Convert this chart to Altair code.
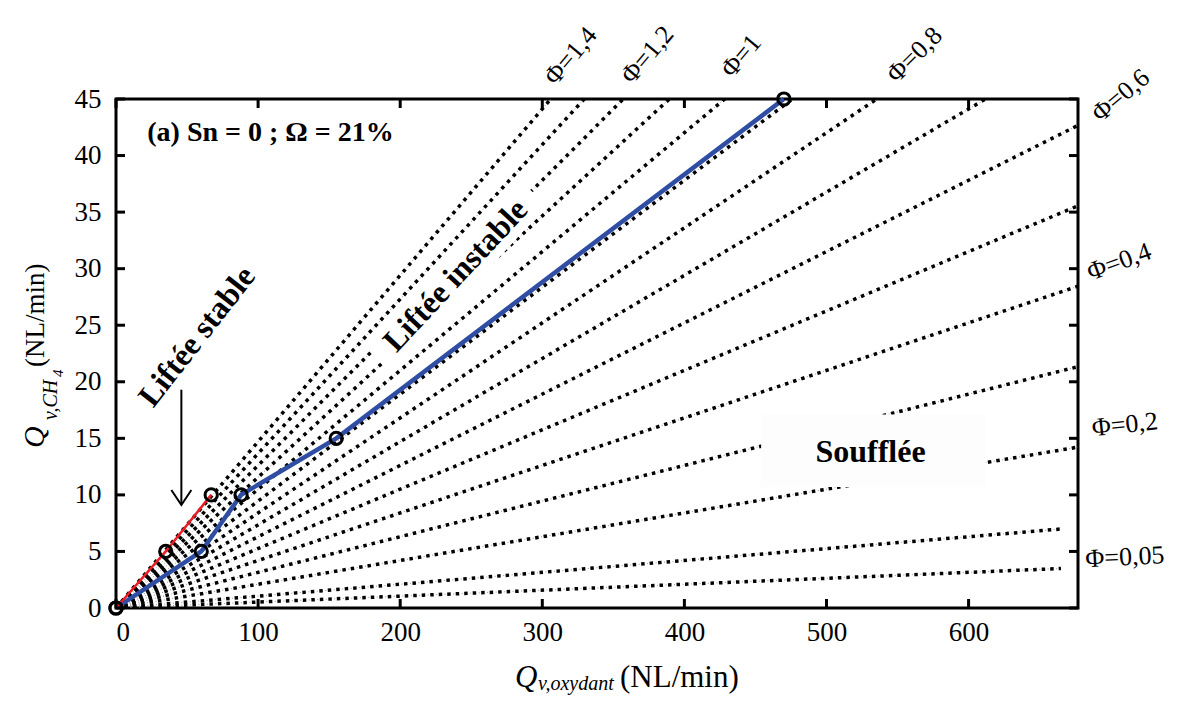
import altair as alt
import pandas as pd

# ---- data ----
phi_values = [0.05, 0.1, 0.2, 0.3, 0.4, 0.5, 0.6, 0.7, 0.8, 0.9, 1.0, 1.1, 1.2, 1.3, 1.4]
stoich_ratio = 9.52          # oxidant / CH4 at phi = 1 (air)
phi_line_xend = [665, 665, 677, 677, 677, 677, 677, 677, 677, 677, 677, 677, 677, 677, 677]

blue_x = [0, 60, 88, 155, 470]
blue_y = [0, 5, 10, 15, 45]
red_x = [0, 35, 67]
red_y = [0, 5, 10]

x_ticks = [0, 100, 200, 300, 400, 500, 600]
y_ticks = [0, 5, 10, 15, 20, 25, 30, 35, 40, 45]

phi_labels = ["Φ=1,4", "Φ=1,2", "Φ=1", "Φ=0,8", "Φ=0,6", "Φ=0,4", "Φ=0,2", "Φ=0,05"]
phi_label_x = [320, 374, 440, 562, 707, 706, 710, 710]
phi_label_y = [48.8, 48.9, 48.8, 48.9, 45.3, 30.6, 16.2, 4.5]
phi_label_angle = [310, 310, 310, 315, 320, 340, 354, 357]

# white text boxes behind labels (start / end of box centre line)
instable_box_x = [185, 293]
instable_box_y = [22.0, 36.8]
souffle_box_x = [454, 612]
souffle_box_y = [10.7, 17.1]

FONT = "Liberation Serif"
W, H = 962, 509
XMAX, YMAX = 677, 45

# ---- tables ----
rows = []
for p, xe in zip(phi_values, phi_line_xend):
    rows.append({"phi": p, "x": 0, "y": 0, "o": 0})
    rows.append({"phi": p, "x": xe, "y": p * xe / stoich_ratio, "o": 1})
phi_df = pd.DataFrame(rows)
blue_df = pd.DataFrame({"x": blue_x, "y": blue_y, "o": range(len(blue_x))})
red_df = pd.DataFrame({"x": red_x, "y": red_y, "o": range(len(red_x))})
lab_df = pd.DataFrame({"t": phi_labels, "x": phi_label_x, "y": phi_label_y, "a": phi_label_angle})

xs = alt.Scale(domain=[0, XMAX], nice=False, zero=True)
ys = alt.Scale(domain=[0, YMAX], nice=False, zero=True)


def X(field="x"):
    return alt.X(f"{field}:Q", scale=xs,
                 axis=alt.Axis(values=x_ticks, title=None, ticks=False, domain=False, grid=False,
                               labelFont=FONT, labelFontSize=27, labelPadding=11, labelColor="black"))


def Y(field="y"):
    return alt.Y(f"{field}:Q", scale=ys,
                 axis=alt.Axis(values=y_ticks, title=None, ticks=False, domain=False, grid=False,
                               labelFont=FONT, labelFontSize=27, labelPadding=15, labelColor="black"))


phi_black = alt.Chart(phi_df).mark_line(color="black", strokeWidth=3.5, strokeDash=[3.5, 5], clip=True).encode(
    x=X(), y=Y(), detail="phi:N", order="o:Q")
phi_gray = alt.Chart(phi_df).mark_line(color="#999999", strokeWidth=1, strokeDash=[1, 7.5],
                                       strokeDashOffset=2.5, clip=True).encode(
    x=X(), y=Y(), detail="phi:N", order="o:Q")

# white box behind "Soufflée"
box_df = pd.DataFrame({"x": [souffle_box_x[0]], "x2": [souffle_box_x[1]],
                       "y": [souffle_box_y[0]], "y2": [souffle_box_y[1]]})
box = alt.Chart(box_df).mark_rect(color="#fdfdfd").encode(x=X(), x2="x2:Q", y=Y(), y2="y2:Q")

# rotated white box behind "Liftée instable" (thick butt-capped line)
ibox_df = pd.DataFrame({"x": instable_box_x, "y": instable_box_y, "o": [0, 1]})
ibox = alt.Chart(ibox_df).mark_line(color="white", strokeWidth=40, strokeCap="butt").encode(
    x=X(), y=Y(), order="o:Q")

ann_df = pd.DataFrame({
    "t": ["Liftée stable", "Liftée instable", "Soufflée", "(a) Sn = 0 ; Ω = 21%"],
    "x": [57, 239, 531, 22],
    "y": [24.0, 29.4, 13.8, 42.0],
    "a": [308, 313, 0, 0],
})
ann_main = alt.Chart(ann_df.iloc[:3]).mark_text(font=FONT, fontSize=32, fontWeight="bold", color="black").encode(
    x=X(), y=Y(), text="t:N", angle=alt.Angle("a:Q", scale=None))
ann_title = alt.Chart(ann_df.iloc[3:]).mark_text(font=FONT, fontSize=28, fontWeight="bold", color="black",
                                                  align="left").encode(x=X(), y=Y(), text="t:N")

blue_line = alt.Chart(blue_df).mark_line(color="#2f4ea3", strokeWidth=4.5).encode(x=X(), y=Y(), order="o:Q")
red_line = alt.Chart(red_df).mark_line(color="#ee1c25", strokeWidth=2.5).encode(x=X(), y=Y(), order="o:Q")
blue_pts = alt.Chart(blue_df).mark_point(shape="circle", size=150, filled=False, color="black",
                                         strokeWidth=3, opacity=1).encode(x=X(), y=Y())
red_pts = alt.Chart(red_df).mark_point(shape="circle", size=150, filled=False, color="black",
                                       strokeWidth=3, opacity=1).encode(x=X(), y=Y())

# arrow
arrow_df = pd.DataFrame({"x": [46], "y": [9.1], "y2": [19.3]})
arrow_shaft = alt.Chart(arrow_df).mark_rule(color="black", strokeWidth=2).encode(x=X(), y=Y(), y2="y2:Q")
arrow_head = alt.Chart(arrow_df).mark_point(shape="M-1,-1.5L0,0L1,-1.5", size=400, filled=False,
                                            color="black", strokeWidth=2, opacity=1).encode(x=X(), y=Y())

# inside ticks on all four sides
xt_df = pd.DataFrame({"x": x_ticks})
yt_df = pd.DataFrame({"y": y_ticks})
tick_bottom = alt.Chart(xt_df).mark_rule(color="black", strokeWidth=3).encode(
    x=X(), y=alt.value(H), y2=alt.value(H - 9))
tick_top = alt.Chart(xt_df).mark_rule(color="black", strokeWidth=3).encode(
    x=X(), y=alt.value(0), y2=alt.value(9))
tick_left = alt.Chart(yt_df).mark_rule(color="black", strokeWidth=3).encode(
    y=Y(), x=alt.value(0), x2=alt.value(9))
tick_right = alt.Chart(yt_df).mark_rule(color="black", strokeWidth=3).encode(
    y=Y(), x=alt.value(W), x2=alt.value(W - 9))

phi_text = alt.Chart(lab_df).mark_text(font=FONT, fontSize=26, color="black").encode(
    x=X(), y=Y(), text="t:N", angle=alt.Angle("a:Q", scale=None))


def piece(txt, px, py, size, italic=False, angle=0):
    kw = dict(font=FONT, fontSize=size, align="left", baseline="alphabetic", color="black")
    if italic:
        kw["fontStyle"] = "italic"
    if angle:
        kw["angle"] = angle
    return alt.Chart(pd.DataFrame({"t": [txt]})).mark_text(**kw).encode(
        x=alt.value(px), y=alt.value(py), text="t:N")


# axis titles (rich text pieces)
xt1 = piece("Q", 399, 588, 31, italic=True)
xt2 = piece("v,oxydant", 422, 591, 20, italic=True)
xt3 = piece("(NL/min)", 504, 588, 31)

yt1 = piece("Q", -72, 349, 30, italic=True, angle=270)
yt2 = piece("v,CH", -59, 321, 20, italic=True, angle=270)
yt3 = piece("4", -53, 278, 15, italic=True, angle=270)
yt4 = piece("(NL/min)", -72, 268, 27, angle=270)

chart = alt.layer(
    phi_black, phi_gray, box, ibox, blue_line, red_line, blue_pts, red_pts,
    arrow_shaft, arrow_head, ann_main, ann_title,
    tick_bottom, tick_top, tick_left, tick_right, phi_text,
    xt1, xt2, xt3, yt1, yt2, yt3, yt4,
).properties(
    width=W, height=H,
    padding={"left": 108, "top": 91, "right": 112, "bottom": 88},
    autosize=alt.AutoSizeParams(type="none"),
).configure_view(stroke="black", strokeWidth=3)

chart.save("out.html", embed_options={"renderer": "svg", "actions": False})
